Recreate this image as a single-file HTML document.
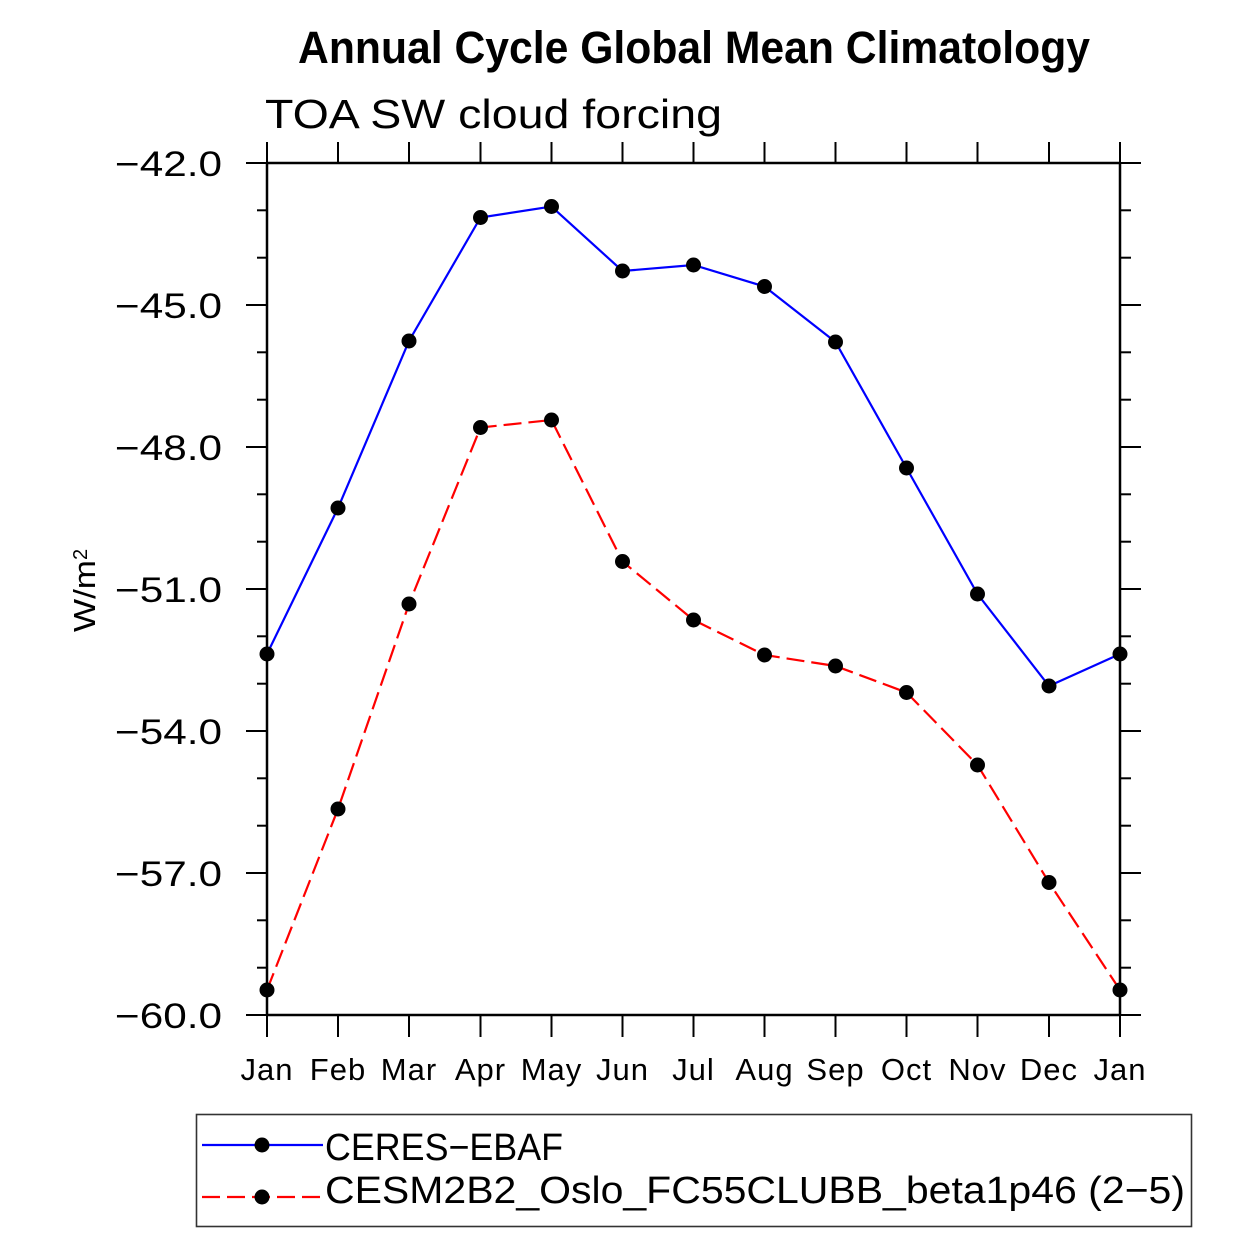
<!DOCTYPE html>
<html>
<head>
<meta charset="utf-8">
<style>
  html,body{margin:0;padding:0;background:#fff;}
  svg{display:block;}
  text{font-family:"Liberation Sans", sans-serif; fill:#000;}
</style>
</head>
<body>
<svg width="1258" height="1258" viewBox="0 0 1258 1258" xmlns="http://www.w3.org/2000/svg">
  <rect width="1258" height="1258" fill="#fff"/>

  <!-- Title -->
  <text x="298" y="63" font-size="45" font-weight="bold" textLength="792" lengthAdjust="spacingAndGlyphs">Annual Cycle Global Mean Climatology</text>
  <!-- Subtitle -->
  <text x="265" y="128" font-size="41" textLength="457" lengthAdjust="spacingAndGlyphs">TOA SW cloud forcing</text>

  <!-- Y axis label -->
  <text transform="translate(95,632) rotate(-90)" font-size="31" textLength="72" lengthAdjust="spacingAndGlyphs">W/m</text>
  <text transform="translate(93,560) rotate(-90)" font-size="20" dy="-6">2</text>

  <!-- Frame -->
  <g stroke="#000" stroke-width="2.5" fill="none">
    <line x1="267" y1="163" x2="1120" y2="163"/>
    <line x1="267" y1="1015" x2="1120" y2="1015"/>
    <line x1="267" y1="163" x2="267" y2="1015"/>
    <line x1="1120" y1="163" x2="1120" y2="1015"/>
  </g>

  <!-- Y ticks -->
  <g stroke="#000" stroke-width="2">
    <!-- major -->
    <line x1="246" y1="163" x2="267" y2="163"/>
    <line x1="246" y1="305" x2="267" y2="305"/>
    <line x1="246" y1="447" x2="267" y2="447"/>
    <line x1="246" y1="589" x2="267" y2="589"/>
    <line x1="246" y1="731" x2="267" y2="731"/>
    <line x1="246" y1="873" x2="267" y2="873"/>
    <line x1="246" y1="1015" x2="267" y2="1015"/>
    <line x1="1120" y1="163" x2="1141" y2="163"/>
    <line x1="1120" y1="305" x2="1141" y2="305"/>
    <line x1="1120" y1="447" x2="1141" y2="447"/>
    <line x1="1120" y1="589" x2="1141" y2="589"/>
    <line x1="1120" y1="731" x2="1141" y2="731"/>
    <line x1="1120" y1="873" x2="1141" y2="873"/>
    <line x1="1120" y1="1015" x2="1141" y2="1015"/>
    <!-- minor -->
    <line x1="257" y1="210.3" x2="267" y2="210.3"/><line x1="1120" y1="210.3" x2="1131" y2="210.3"/>
    <line x1="257" y1="257.7" x2="267" y2="257.7"/><line x1="1120" y1="257.7" x2="1131" y2="257.7"/>
    <line x1="257" y1="352.3" x2="267" y2="352.3"/><line x1="1120" y1="352.3" x2="1131" y2="352.3"/>
    <line x1="257" y1="399.7" x2="267" y2="399.7"/><line x1="1120" y1="399.7" x2="1131" y2="399.7"/>
    <line x1="257" y1="494.3" x2="267" y2="494.3"/><line x1="1120" y1="494.3" x2="1131" y2="494.3"/>
    <line x1="257" y1="541.7" x2="267" y2="541.7"/><line x1="1120" y1="541.7" x2="1131" y2="541.7"/>
    <line x1="257" y1="636.3" x2="267" y2="636.3"/><line x1="1120" y1="636.3" x2="1131" y2="636.3"/>
    <line x1="257" y1="683.7" x2="267" y2="683.7"/><line x1="1120" y1="683.7" x2="1131" y2="683.7"/>
    <line x1="257" y1="778.3" x2="267" y2="778.3"/><line x1="1120" y1="778.3" x2="1131" y2="778.3"/>
    <line x1="257" y1="825.7" x2="267" y2="825.7"/><line x1="1120" y1="825.7" x2="1131" y2="825.7"/>
    <line x1="257" y1="920.3" x2="267" y2="920.3"/><line x1="1120" y1="920.3" x2="1131" y2="920.3"/>
    <line x1="257" y1="967.7" x2="267" y2="967.7"/><line x1="1120" y1="967.7" x2="1131" y2="967.7"/>
  </g>

  <!-- X ticks -->
  <g stroke="#000" stroke-width="2">
    <line x1="267" y1="142" x2="267" y2="163"/><line x1="267" y1="1015" x2="267" y2="1037"/>
    <line x1="338" y1="142" x2="338" y2="163"/><line x1="338" y1="1015" x2="338" y2="1037"/>
    <line x1="409" y1="142" x2="409" y2="163"/><line x1="409" y1="1015" x2="409" y2="1037"/>
    <line x1="480.5" y1="142" x2="480.5" y2="163"/><line x1="480.5" y1="1015" x2="480.5" y2="1037"/>
    <line x1="551.5" y1="142" x2="551.5" y2="163"/><line x1="551.5" y1="1015" x2="551.5" y2="1037"/>
    <line x1="622.5" y1="142" x2="622.5" y2="163"/><line x1="622.5" y1="1015" x2="622.5" y2="1037"/>
    <line x1="693.5" y1="142" x2="693.5" y2="163"/><line x1="693.5" y1="1015" x2="693.5" y2="1037"/>
    <line x1="764.5" y1="142" x2="764.5" y2="163"/><line x1="764.5" y1="1015" x2="764.5" y2="1037"/>
    <line x1="835.5" y1="142" x2="835.5" y2="163"/><line x1="835.5" y1="1015" x2="835.5" y2="1037"/>
    <line x1="906.5" y1="142" x2="906.5" y2="163"/><line x1="906.5" y1="1015" x2="906.5" y2="1037"/>
    <line x1="977.5" y1="142" x2="977.5" y2="163"/><line x1="977.5" y1="1015" x2="977.5" y2="1037"/>
    <line x1="1049" y1="142" x2="1049" y2="163"/><line x1="1049" y1="1015" x2="1049" y2="1037"/>
    <line x1="1120" y1="142" x2="1120" y2="163"/><line x1="1120" y1="1015" x2="1120" y2="1037"/>
  </g>

  <!-- Y tick labels -->
  <g font-size="35" text-anchor="end">
    <text x="222" y="176" textLength="107" lengthAdjust="spacingAndGlyphs">−42.0</text>
    <text x="222" y="318" textLength="107" lengthAdjust="spacingAndGlyphs">−45.0</text>
    <text x="222" y="460" textLength="107" lengthAdjust="spacingAndGlyphs">−48.0</text>
    <text x="222" y="602" textLength="107" lengthAdjust="spacingAndGlyphs">−51.0</text>
    <text x="222" y="744" textLength="107" lengthAdjust="spacingAndGlyphs">−54.0</text>
    <text x="222" y="886" textLength="107" lengthAdjust="spacingAndGlyphs">−57.0</text>
    <text x="222" y="1028" textLength="107" lengthAdjust="spacingAndGlyphs">−60.0</text>
  </g>

  <!-- X tick labels -->
  <g font-size="31" text-anchor="middle" letter-spacing="1">
    <text x="267" y="1080">Jan</text>
    <text x="338" y="1080">Feb</text>
    <text x="409" y="1080">Mar</text>
    <text x="480.5" y="1080">Apr</text>
    <text x="551.5" y="1080">May</text>
    <text x="622.5" y="1080">Jun</text>
    <text x="693.5" y="1080">Jul</text>
    <text x="764.5" y="1080">Aug</text>
    <text x="835.5" y="1080">Sep</text>
    <text x="906.5" y="1080">Oct</text>
    <text x="977.5" y="1080">Nov</text>
    <text x="1049" y="1080">Dec</text>
    <text x="1120" y="1080">Jan</text>
  </g>

  <!-- Blue series -->
  <polyline fill="none" stroke="#0000ff" stroke-width="2.2"
    points="267,654 338,508 409,341 480.5,217.5 551.5,206.5 622.5,271 693.5,265 764.5,286.5 835.5,342 906.5,468 977.5,594 1049,686 1120,654"/>
  <!-- Red series -->
  <polyline fill="none" stroke="#ff0000" stroke-width="2.2" stroke-dasharray="18 7"
    points="267,990 338,809 409,604 480.5,427.5 551.5,420 622.5,561.5 693.5,620 764.5,655 835.5,666 906.5,692.5 977.5,765 1049,882.5 1120,990"/>

  <!-- Markers -->
  <g fill="#000">
    <circle cx="267" cy="654" r="7.5"/><circle cx="338" cy="508" r="7.5"/><circle cx="409" cy="341" r="7.5"/>
    <circle cx="480.5" cy="217.5" r="7.5"/><circle cx="551.5" cy="206.5" r="7.5"/><circle cx="622.5" cy="271" r="7.5"/>
    <circle cx="693.5" cy="265" r="7.5"/><circle cx="764.5" cy="286.5" r="7.5"/><circle cx="835.5" cy="342" r="7.5"/>
    <circle cx="906.5" cy="468" r="7.5"/><circle cx="977.5" cy="594" r="7.5"/><circle cx="1049" cy="686" r="7.5"/>
    <circle cx="1120" cy="654" r="7.5"/>
    <circle cx="267" cy="990" r="7.5"/><circle cx="338" cy="809" r="7.5"/><circle cx="409" cy="604" r="7.5"/>
    <circle cx="480.5" cy="427.5" r="7.5"/><circle cx="551.5" cy="420" r="7.5"/><circle cx="622.5" cy="561.5" r="7.5"/>
    <circle cx="693.5" cy="620" r="7.5"/><circle cx="764.5" cy="655" r="7.5"/><circle cx="835.5" cy="666" r="7.5"/>
    <circle cx="906.5" cy="692.5" r="7.5"/><circle cx="977.5" cy="765" r="7.5"/><circle cx="1049" cy="882.5" r="7.5"/>
    <circle cx="1120" cy="990" r="7.5"/>
  </g>

  <!-- Legend -->
  <rect x="196.5" y="1114.5" width="995" height="112" fill="none" stroke="#333" stroke-width="1.6"/>
  <line x1="202" y1="1145" x2="323" y2="1145" stroke="#0000ff" stroke-width="2.2"/>
  <circle cx="262" cy="1145" r="7.5" fill="#000"/>
  <line x1="202" y1="1197" x2="323" y2="1197" stroke="#ff0000" stroke-width="2.2" stroke-dasharray="18 7"/>
  <circle cx="262" cy="1197" r="7.5" fill="#000"/>
  <text x="325" y="1160" font-size="38" textLength="238" lengthAdjust="spacingAndGlyphs">CERES−EBAF</text>
  <text x="325" y="1203" font-size="38" textLength="860" lengthAdjust="spacingAndGlyphs">CESM2B2_Oslo_FC55CLUBB_beta1p46 (2−5)</text>
</svg>
</body>
</html>
